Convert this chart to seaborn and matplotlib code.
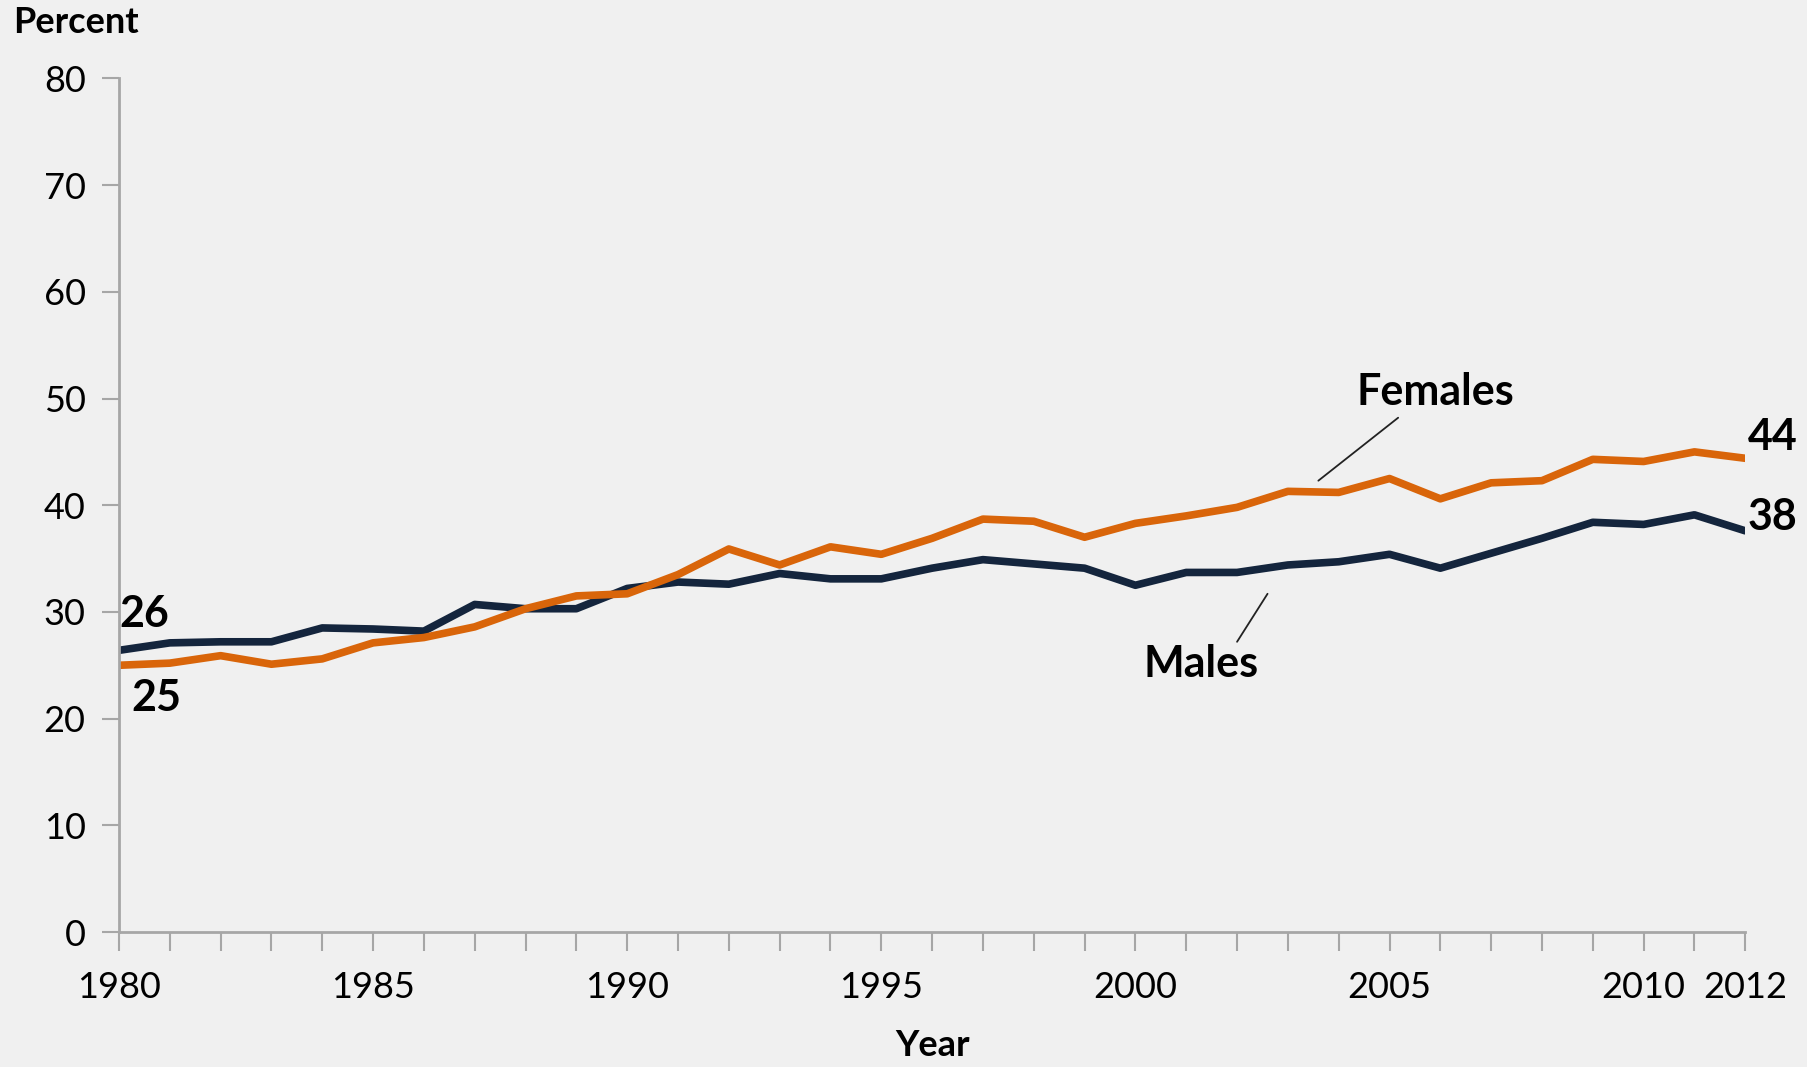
import pandas as pd
import matplotlib.pyplot as plt
import seaborn as sns

# Datos
years = list(range(1980, 2013))
males = [26.4, 27.1, 27.2, 27.2, 28.5, 28.4, 28.2, 30.7, 30.3, 30.3,
         32.2, 32.8, 32.6, 33.6, 33.1, 33.1, 34.1, 34.9, 34.5, 34.1,
         32.5, 33.7, 33.7, 34.4, 34.7, 35.4, 34.1, 35.5, 36.9, 38.4,
         38.2, 39.1, 37.6]
females = [25.0, 25.2, 25.9, 25.1, 25.6, 27.1, 27.6, 28.6, 30.3, 31.5,
           31.7, 33.5, 35.9, 34.4, 36.1, 35.4, 36.9, 38.7, 38.5, 37.0,
           38.3, 39.0, 39.8, 41.3, 41.2, 42.5, 40.6, 42.1, 42.3, 44.3,
           44.1, 45.0, 44.4]
labeled_years = [1980, 1985, 1990, 1995, 2000, 2005, 2010, 2012]
y_ticks = [0, 10, 20, 30, 40, 50, 60, 70, 80]

df = pd.DataFrame({
    'Year': years * 2,
    'Percent': males + females,
    'Sex': ['Males'] * len(years) + ['Females'] * len(years),
})

bg = '#f0f0f0'
sns.set_style('white')
plt.rcParams['font.family'] = ['Lato', 'DejaVu Sans']
plt.rcParams['text.color'] = 'black'
plt.rcParams['axes.labelcolor'] = 'black'

fig = plt.figure(figsize=(18.08, 10.67), dpi=100, facecolor=bg)
ax = fig.add_axes([0.0658, 0.1265, 0.8995, 0.8])
ax.set_facecolor(bg)

sns.lineplot(data=df, x='Year', y='Percent', hue='Sex',
             palette={'Males': '#14253d', 'Females': '#d9650a'},
             linewidth=5.5, ax=ax, legend=False)

ax.set_xlim(1980, 2012)
ax.set_ylim(0, 80)
ax.set_xticks(years)
ax.set_xticklabels([str(y) if y in labeled_years else '' for y in years])
ax.set_yticks(y_ticks)
ax.tick_params(axis='x', bottom=True, direction='out', length=14, width=1.5,
               color='#a6a6a6', labelsize=26, labelcolor='black', pad=14)
ax.tick_params(axis='y', left=True, direction='out', length=12, width=1.5,
               color='#a6a6a6', labelsize=26, labelcolor='black', pad=12)
for s in ['top', 'right']:
    ax.spines[s].set_visible(False)
for s in ['left', 'bottom']:
    ax.spines[s].set_color('#a6a6a6')
    ax.spines[s].set_linewidth(2)
ax.set_xlabel('Year', fontsize=26, fontweight='bold', labelpad=18, color='black')
ax.set_ylabel('')
fig.text(0.007, 0.979, 'Percent', fontsize=26, fontweight='bold', va='center', ha='left')

# Etiquetas de valores
ax.text(1980.5, 29.8, '26', fontsize=31, fontweight='bold', ha='center', va='center')
ax.text(1980.73, 21.9, '25', fontsize=31, fontweight='bold', ha='center', va='center')
ax.text(2012.05, 46.4, '44', fontsize=31, fontweight='bold', ha='left', va='center', clip_on=False)
ax.text(2012.05, 38.9, '38', fontsize=31, fontweight='bold', ha='left', va='center', clip_on=False)

# Nombres de las series
ax.text(2005.9, 50.6, 'Females', fontsize=31, fontweight='bold', ha='center', va='center')
ax.plot([2005.17, 2003.6], [48.2, 42.3], color='#222222', linewidth=1.3)
ax.text(2001.3, 25.1, 'Males', fontsize=31, fontweight='bold', ha='center', va='center')
ax.plot([2002.0, 2002.6], [27.2, 31.7], color='#222222', linewidth=1.3)

plt.savefig('out.png', dpi=100, facecolor=bg)
